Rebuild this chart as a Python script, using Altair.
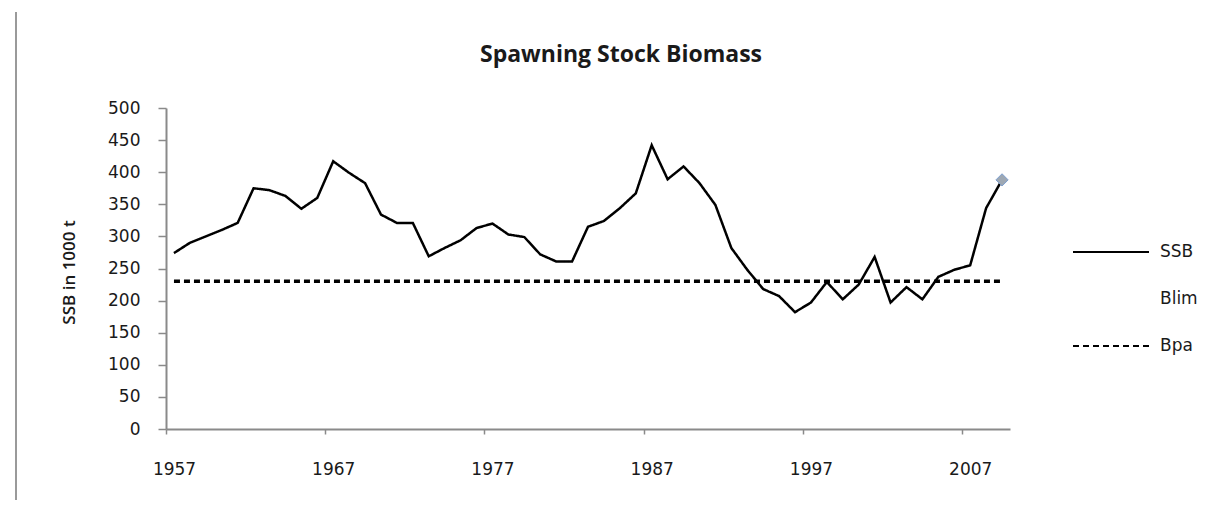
import altair as alt
import pandas as pd

# ---- data ----
years = list(range(1957, 2010))
ssb = [274, 290, 300, 310, 321, 375, 372, 363, 343, 360,
       417, 399, 383, 334, 321, 321, 269, 282, 294, 313,
       320, 303, 299, 272, 261, 261, 315, 324, 344, 367,
       442, 389, 409, 383, 349, 282, 248, 218, 207, 182,
       197, 229, 202, 225, 268, 197, 221, 202, 237, 248,
       255, 344, 388]
bpa_value = 230
series_names = ["SSB", "Blim", "Bpa"]
y_tick_values = [0, 50, 100, 150, 200, 250, 300, 350, 400, 450, 500]
x_label_years = [1957, 1967, 1977, 1987, 1997, 2007]

ssb_df = pd.DataFrame({"Year": years, "Value": ssb, "Series": "SSB"})
bpa_df = pd.DataFrame({"Year": years, "Value": [bpa_value] * len(years), "Series": "Bpa"})

AXIS_GRAY = "#8a8a8a"
TEXT = "#1a1a1a"

x_scale = alt.Scale(domain=[years[0] - 0.5, years[-1] + 0.5], nice=False, zero=False)
y_scale = alt.Scale(domain=[0, 500], nice=False, zero=True)
color_scale = alt.Scale(domain=series_names, range=["#000000", "rgba(0,0,0,0)", "#000000"])
dash_scale = alt.Scale(domain=series_names, range=[[1, 0], [1, 0], [6, 4]])

x_axis = alt.Axis(
    values=[y - 0.5 for y in x_label_years],
    labelExpr="toString(datum.value + 0.5)",
    labelOffset=8, labelFlush=False, labelOverlap=False,
    tickSize=5, labelPadding=27, grid=False, title=None,
    domainColor=AXIS_GRAY, tickColor=AXIS_GRAY, domainWidth=2, tickWidth=1.5,
    labelFont="DejaVu Sans", labelFontSize=17, labelColor=TEXT,
)
y_axis = alt.Axis(
    values=y_tick_values, tickCount=11, tickSize=8, labelPadding=18, grid=False,
    labelOverlap=False, labelFlush=False, labelBound=False,
    title="SSB in 1000 t", titleFont="Open Sans", titleFontSize=17, titleFontWeight=600,
    titleColor=TEXT, titleAngle=270, titleX=-97, titleY=164,
    titleAlign="center", titleBaseline="middle",
    domainColor=AXIS_GRAY, tickColor=AXIS_GRAY, domainWidth=2, tickWidth=1.5,
    labelFont="DejaVu Sans", labelFontSize=17, labelColor=TEXT,
)

legend = alt.Legend(
    orient="none", legendX=906, legendY=105, title=None,
    symbolType="stroke", symbolSize=5776, symbolStrokeWidth=2,
    labelFont="DejaVu Sans", labelFontSize=17, labelColor=TEXT,
    labelOffset=10, padding=0, rowPadding=0,
)

color_enc = alt.Color("Series:N", scale=color_scale, legend=legend)
dash_enc = alt.StrokeDash("Series:N", scale=dash_scale, legend=legend)
x_enc = alt.X("Year:Q", scale=x_scale, axis=x_axis)
y_enc = alt.Y("Value:Q", scale=y_scale, axis=y_axis)

bpa_layer = alt.Chart(bpa_df).mark_line(strokeWidth=3.5, strokeCap="butt").encode(
    x=x_enc, y=y_enc, color=color_enc, strokeDash=dash_enc,
)

ssb_layer = alt.Chart(ssb_df).mark_line(strokeWidth=2.5).encode(
    x=x_enc, y=y_enc, color=color_enc, strokeDash=dash_enc,
)

last_point = alt.Chart(ssb_df).transform_filter(
    alt.datum.Year == years[-1]
).mark_point(shape="diamond", filled=True, fill="#9ea8b3", stroke="#7d9fcf",
             strokeWidth=1, size=150, opacity=1).encode(x=x_enc, y=y_enc)

frame_line = alt.Chart(pd.DataFrame({"d": [0]})).mark_rule(
    color="#9a9a9a", strokeWidth=2
).encode(x=alt.value(-150), y=alt.value(-96), y2=alt.value(392))

chart = alt.layer(frame_line, bpa_layer, ssb_layer, last_point).properties(
    width=844, height=321,
    padding={"left": 158, "top": 100, "right": 211, "bottom": 79},
    autosize=alt.AutoSizeParams(type="none"),
    title=alt.TitleParams(
        "Spawning Stock Biomass", font="Open Sans", fontSize=23, fontWeight="bold",
        color=TEXT, anchor="middle", frame="group", dx=33, offset=-56,
    ),
).configure_view(stroke=None)

chart.save("out.html", embed_options={"renderer": "svg", "actions": False})
